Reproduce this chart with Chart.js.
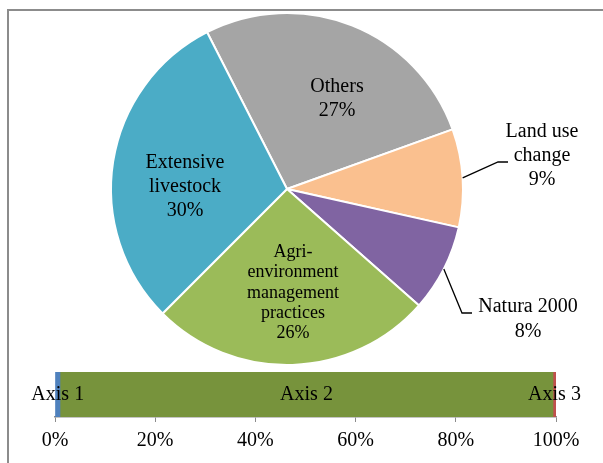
<!DOCTYPE html>
<html>
<head>
<meta charset="utf-8">
<script src="https://cdn.jsdelivr.net/npm/chart.js@4"></script>
<style>
  body { margin: 0; background: #fff; }
  #frame { position: absolute; left: 7px; top: 9px; width: 700px; height: 600px;
           border-left: 2px solid #8c8c8c; border-top: 2px solid #8c8c8c; }
  #pieCanvas { position: absolute; left: 0; top: 0; }
  #barCanvas { position: absolute; left: 0; top: 365px; }
</style>
</head>
<body>
<div id="frame"></div>
<canvas id="pieCanvas" width="603" height="370"></canvas>
<canvas id="barCanvas" width="603" height="98"></canvas>
<script>
// Pie data
const pieCategories = ["Others", "Land use change", "Natura 2000", "Agri-environment management practices", "Extensive livestock"];
const pieValues = [27, 9, 8, 26, 30];
const pieLabelLines = [["Others"], ["Land use", "change"], ["Natura 2000"], ["Agri-", "environment", "management", "practices"], ["Extensive", "livestock"]];
const pieColors = ["#a5a5a5", "#fac08f", "#8064a2", "#9bbb59", "#4bacc6"];

// Bar data
const barCategories = ["Axis 1", "Axis 2", "Axis 3"];
const barValues = [1, 98.4, 0.6];
const barColors = ["#4f81bd", "#77933c", "#c0504d"];
const barTicks = [0, 20, 40, 60, 80, 100];

const fontFamily = "'Liberation Serif', 'Times New Roman', serif";

// Where each pie label sits, measured from the pie centre
const labelPlaces = [
    { dx: 50, dy: -90, size: 20, lh: 24 },
    { dx: 255, dy: -33, size: 20, lh: 24, leader: [[211, -27], [221, -27]] },
    { dx: 241, dy: 130, size: 20, lh: 25, leader: [[175, 124], [185, 124]] },
    { dx: 6, dy: 104, size: 18, lh: 20.3 },
    { dx: -102, dy: -2, size: 20, lh: 24 },
];

const pieLabelPlugin = {
    id: "pieLabels",
    afterDatasetsDraw(chart) {
        const ctx = chart.ctx;
        const arcs = chart.getDatasetMeta(0).data;
        ctx.save();
        ctx.fillStyle = "#000";
        ctx.textAlign = "center";
        ctx.textBaseline = "middle";
        arcs.forEach((arc, i) => {
            const place = labelPlaces[i];
            const lines = pieLabelLines[i].concat([pieValues[i] + "%"]);
            if (place.leader) {
                const mid = (arc.startAngle + arc.endAngle) / 2;
                ctx.beginPath();
                ctx.strokeStyle = "#000";
                ctx.lineWidth = 1.3;
                ctx.moveTo(arc.x + Math.cos(mid) * arc.outerRadius, arc.y + Math.sin(mid) * arc.outerRadius);
                place.leader.forEach((p) => ctx.lineTo(arc.x + p[0], arc.y + p[1]));
                ctx.stroke();
            }
            ctx.font = `${place.size}px ${fontFamily}`;
            const top = arc.y + place.dy - (lines.length - 1) * place.lh / 2;
            lines.forEach((line, j) => {
                ctx.fillText(line, arc.x + place.dx, top + j * place.lh);
            });
        });
        ctx.restore();
    },
};

new Chart(document.getElementById("pieCanvas").getContext("2d"), {
    type: "pie",
    data: {
        labels: pieCategories,
        datasets: [{
            data: pieValues,
            backgroundColor: pieColors,
            borderColor: "#fff",
            borderWidth: 2,
        }],
    },
    options: {
        responsive: false,
        animation: false,
        rotation: -27,
        radius: 176,
        layout: { padding: { left: 111, right: 140, top: 13, bottom: 5 } },
        plugins: { legend: { display: false }, tooltip: { enabled: false } },
    },
    plugins: [pieLabelPlugin],
});

const barLabelPlugin = {
    id: "barLabels",
    afterDatasetsDraw(chart) {
        const ctx = chart.ctx;
        ctx.save();
        ctx.fillStyle = "#000";
        ctx.font = `20px ${fontFamily}`;
        ctx.textAlign = "center";
        ctx.textBaseline = "middle";
        chart.data.datasets.forEach((ds, i) => {
            const bar = chart.getDatasetMeta(i).data[0];
            ctx.fillText(ds.label, (bar.x + bar.base) / 2, bar.y);
        });
        ctx.restore();
    },
};

new Chart(document.getElementById("barCanvas").getContext("2d"), {
    type: "bar",
    data: {
        labels: [""],
        datasets: barCategories.map((name, i) => ({
            label: name,
            data: [barValues[i]],
            backgroundColor: barColors[i],
            barPercentage: 1,
            categoryPercentage: 1,
        })),
    },
    options: {
        indexAxis: "y",
        responsive: false,
        animation: false,
        layout: { padding: { left: 55, right: 47, top: 7, bottom: 3 } },
        scales: {
            x: {
                stacked: true,
                min: 0,
                max: 100,
                afterBuildTicks: (axis) => { axis.ticks = barTicks.map((v) => ({ value: v })); },
                grid: { drawOnChartArea: false, tickLength: 5, color: "#8c8c8c" },
                border: { color: "#8c8c8c", width: 1.5 },
                ticks: {
                    padding: 7,
                    color: "#000",
                    font: { family: fontFamily, size: 20 },
                    callback: (v) => v + "%",
                },
            },
            y: { stacked: true, display: false },
        },
        plugins: { legend: { display: false }, tooltip: { enabled: false } },
    },
    plugins: [barLabelPlugin],
});
</script>
</body>
</html>
